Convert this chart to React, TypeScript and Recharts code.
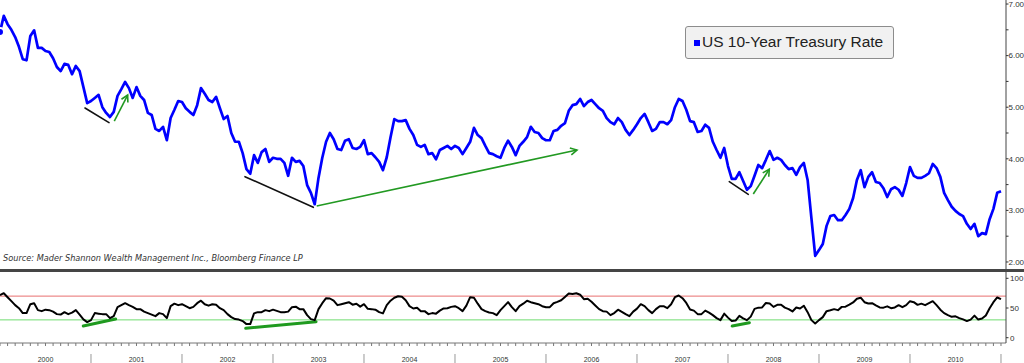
import { LineChart, Line, XAxis, YAxis, ReferenceLine } from "recharts";

// semi-monthly readings, 24 per year (2010 carries one extra closing point)
const years = [2000, 2001, 2002, 2003, 2004, 2005, 2006, 2007, 2008, 2009, 2010];
const yearLabels = ["2000", "2001", "2002", "2003", "2004", "2005", "2006", "2007", "2008", "2009", "2010"];

const rate2000 = [6.46, 6.77, 6.61, 6.5, 6.36, 6.17, 5.93, 5.91, 6.38, 6.49, 6.15, 6.15, 6.09, 6.07, 5.95, 5.78, 5.7, 5.84, 5.82, 5.64, 5.8, 5.7, 5.39, 5.08];
const rate2001 = [5.12, 5.18, 5.24, 5.0, 4.89, 4.81, 4.91, 5.22, 5.35, 5.49, 5.37, 5.18, 5.39, 5.22, 5.14, 4.89, 4.85, 4.58, 4.54, 4.62, 4.36, 4.79, 4.95, 5.12];
const rate2002 = [5.1, 4.98, 4.91, 4.85, 5.04, 5.37, 5.26, 5.14, 5.1, 5.2, 4.98, 4.77, 4.83, 4.5, 4.33, 4.33, 4.11, 3.8, 3.71, 4.07, 3.92, 4.13, 4.19, 3.94];
const rate2003 = [4.02, 4.0, 4.0, 3.92, 3.67, 4.02, 3.94, 3.96, 3.86, 3.49, 3.34, 3.12, 3.63, 4.02, 4.33, 4.5, 4.38, 4.19, 4.17, 4.35, 4.38, 4.21, 4.19, 4.23];
const rate2004 = [4.36, 4.09, 4.11, 4.03, 3.94, 3.78, 4.03, 4.42, 4.77, 4.73, 4.73, 4.75, 4.58, 4.46, 4.27, 4.23, 4.27, 4.09, 4.11, 3.99, 4.17, 4.21, 4.25, 4.19];
const rate2005 = [4.25, 4.21, 4.09, 4.21, 4.33, 4.6, 4.46, 4.4, 4.25, 4.11, 4.09, 4.05, 4.02, 4.21, 4.35, 4.23, 4.07, 4.25, 4.33, 4.42, 4.62, 4.52, 4.5, 4.4];
const rate2006 = [4.36, 4.36, 4.54, 4.56, 4.64, 4.69, 4.93, 5.04, 5.06, 5.16, 5.02, 5.1, 5.14, 5.06, 4.98, 4.93, 4.79, 4.71, 4.67, 4.79, 4.71, 4.56, 4.46, 4.56];
const rate2007 = [4.67, 4.79, 4.87, 4.71, 4.54, 4.58, 4.71, 4.71, 4.67, 4.75, 5.0, 5.16, 5.12, 4.95, 4.73, 4.71, 4.52, 4.54, 4.66, 4.6, 4.33, 4.17, 4.02, 4.21];
const rate2008 = [3.86, 3.61, 3.61, 3.74, 3.57, 3.4, 3.47, 3.67, 3.88, 3.82, 3.98, 4.15, 3.98, 4.02, 3.98, 3.88, 3.8, 3.82, 3.69, 3.84, 3.92, 3.59, 2.85, 2.12];
const rate2009 = [2.23, 2.35, 2.7, 2.89, 2.91, 2.81, 2.81, 2.91, 3.03, 3.24, 3.59, 3.78, 3.45, 3.65, 3.74, 3.55, 3.53, 3.43, 3.26, 3.41, 3.45, 3.4, 3.28, 3.53];
const rate2010 = [3.84, 3.67, 3.63, 3.63, 3.67, 3.72, 3.9, 3.82, 3.65, 3.34, 3.2, 3.07, 2.99, 2.93, 2.89, 2.74, 2.64, 2.74, 2.5, 2.56, 2.54, 2.83, 3.03, 3.34, 3.37];

const rsi2000 = [71.5, 74.9, 68.2, 61.5, 54.8, 49.7, 41.4, 41.4, 56.4, 58.1, 46.4, 44.7, 47.2, 46.4, 43.9, 39.7, 38.9, 43.0, 39.7, 42.2, 46.4, 38.9, 30.8, 26.3];
const rsi2001 = [29.6, 41.4, 40.5, 39.7, 39.7, 33.0, 36.3, 51.4, 54.8, 58.1, 54.8, 51.9, 48.1, 48.1, 43.9, 41.4, 38.9, 36.3, 41.4, 39.7, 33.0, 53.1, 57.3, 54.8];
const rsi2002 = [56.4, 53.1, 49.7, 51.9, 58.1, 62.3, 56.4, 53.9, 56.4, 55.3, 49.7, 46.4, 39.7, 34.7, 31.3, 30.5, 28.0, 22.9, 22.9, 40.9, 43.0, 43.0, 46.4, 44.7];
const rsi2003 = [47.2, 45.2, 43.0, 43.0, 43.9, 51.4, 52.3, 48.1, 48.1, 38.0, 31.3, 29.6, 48.1, 58.1, 66.5, 66.0, 62.3, 54.8, 56.4, 58.1, 59.8, 55.6, 57.3, 52.3];
const rsi2004 = [56.4, 48.6, 48.1, 47.2, 43.0, 40.9, 54.8, 62.3, 67.3, 69.8, 69.0, 63.1, 53.1, 49.2, 50.6, 44.7, 44.7, 39.7, 41.4, 40.5, 45.6, 49.2, 49.7, 51.9];
const rsi2005 = [53.1, 49.7, 44.7, 53.9, 68.2, 67.3, 57.3, 48.1, 44.7, 42.5, 41.4, 38.0, 46.4, 53.1, 59.8, 51.4, 44.7, 53.1, 57.3, 62.3, 59.8, 58.1, 56.4, 53.1];
const rsi2006 = [51.4, 51.4, 58.1, 60.3, 63.1, 68.7, 74.4, 73.7, 74.9, 72.4, 64.8, 65.7, 60.6, 54.3, 48.1, 44.7, 43.9, 38.0, 41.4, 47.2, 43.6, 39.7, 36.3, 43.9];
const rsi2007 = [48.9, 56.4, 53.1, 46.4, 41.4, 48.1, 53.1, 53.1, 49.7, 56.4, 68.2, 71.0, 66.5, 58.6, 47.6, 45.6, 39.7, 39.7, 45.6, 42.2, 38.0, 33.0, 29.6, 40.5];
const rsi2008 = [33.8, 28.0, 28.8, 36.7, 32.5, 29.6, 35.5, 48.6, 50.6, 50.9, 58.6, 57.6, 51.9, 55.3, 55.6, 50.6, 48.1, 44.2, 50.9, 49.2, 53.9, 43.0, 29.6, 23.8];
const rsi2009 = [29.6, 34.7, 44.7, 46.1, 48.1, 46.4, 51.9, 52.3, 55.6, 59.3, 65.7, 67.3, 59.8, 57.6, 58.1, 54.3, 50.9, 50.6, 52.8, 49.7, 50.9, 54.8, 51.4, 54.8];
const rsi2010 = [61.5, 59.8, 55.3, 57.3, 54.8, 58.1, 61.5, 54.8, 47.2, 41.4, 38.0, 35.2, 36.0, 33.0, 30.8, 28.0, 30.5, 37.2, 30.5, 32.2, 37.5, 49.7, 59.8, 67.7, 64.8];

const rateByYear = [rate2000, rate2001, rate2002, rate2003, rate2004, rate2005, rate2006, rate2007, rate2008, rate2009, rate2010];
const rsiByYear = [rsi2000, rsi2001, rsi2002, rsi2003, rsi2004, rsi2005, rsi2006, rsi2007, rsi2008, rsi2009, rsi2010];

const rateTicks = [2, 2.5, 3, 3.5, 4, 4.5, 5, 5.5, 6, 6.5, 7];
const rsiTicks = [0, 50, 100];

// hand drawn trend marks, in data units [t1, v1, t2, v2]
const rateBlackMarks = [
  [2000.934, 4.985, 2001.198, 4.7],
  [2002.692, 3.653, 2003.443, 3.06],
  [2008.014, 3.556, 2008.223, 3.312],
];
const rateGreenArrows = [
  [2001.256, 4.73, 2001.403, 5.236],
  [2003.48, 3.085, 2006.341, 4.17],
  [2008.278, 3.318, 2008.454, 3.797],
];
const rsiGreenMarks = [
  [2000.915, 19.7, 2001.271, 31.5],
  [2002.7, 15.8, 2003.473, 26.9],
  [2008.047, 19.7, 2008.234, 25.3],
];

const rows: { t: number; rate: number; rsi: number }[] = [];
years.forEach((yr, yi) => {
  rateByYear[yi].forEach((v, i) => {
    rows.push({ t: yr + i / 24, rate: v, rsi: rsiByYear[yi][i] });
  });
});

const X_DOMAIN: [number, number] = [2000, 2011.055];
const monthTicks = Array.from({ length: 133 }, (_, m) => 2000 + m / 12);

const W = 1024;
const AXIS_W = 18;

function RateTick(props: any) {
  const { x, y, payload } = props;
  const v = payload.value;
  const major = Math.abs(v - Math.round(v)) < 1e-6;
  return (
    <g>
      <line x1={x} x2={x + 2.5} y1={y} y2={y} stroke="#333" strokeWidth={1} />
      {major && (
        <text x={x + 2.5} y={y} dy="0.35em" fontSize={8} fill="#333" fontFamily="Liberation Sans">
          {v.toFixed(2)}
        </text>
      )}
    </g>
  );
}

function RsiTick(props: any) {
  const { x, y, payload } = props;
  return (
    <g>
      <line x1={x} x2={x + 2.5} y1={y} y2={y} stroke="#333" strokeWidth={1} />
      <text x={x + 4} y={y} dy="0.35em" fontSize={8} fill="#333" fontFamily="Liberation Sans">
        {payload.value}
      </text>
    </g>
  );
}

function YearTick(props: any) {
  const { x, y, payload } = props;
  const m = Math.round((payload.value - 2000) * 12);
  const boundary = m % 12 === 0 && m > 0;
  const mid = m % 12 === 6;
  return (
    <g>
      <line x1={x} x2={x} y1={y} y2={y + 3} stroke="#777" strokeWidth={1} />
      {boundary && <line x1={x} x2={x} y1={y + 11} y2={y + 20} stroke="#999" strokeWidth={1} />}
      {mid && (
        <text x={x} y={y + 18.5} textAnchor="middle" fontSize={7} fill="#333" fontFamily="Liberation Sans">
          {yearLabels[Math.floor(m / 12)]}
        </text>
      )}
    </g>
  );
}

const plainSeg = (color: string, width: number) => (p: any) => (
  <line x1={p.x1} y1={p.y1} x2={p.x2} y2={p.y2} stroke={color} strokeWidth={width} strokeLinecap="round" />
);

const arrowSeg = (color: string) => (p: any) => {
  const a = Math.atan2(p.y2 - p.y1, p.x2 - p.x1);
  const L = 7.5;
  const w = 0.5;
  const h1 = `${p.x2 - L * Math.cos(a - w)},${p.y2 - L * Math.sin(a - w)}`;
  const h2 = `${p.x2 - L * Math.cos(a + w)},${p.y2 - L * Math.sin(a + w)}`;
  return (
    <g>
      <line x1={p.x1} y1={p.y1} x2={p.x2} y2={p.y2} stroke={color} strokeWidth={1.6} />
      <polyline points={`${h1} ${p.x2},${p.y2} ${h2}`} fill="none" stroke={color} strokeWidth={1.6} />
    </g>
  );
};

export default function App() {
  return (
    <div
      style={{
        position: "absolute",
        left: 0,
        top: 0,
        width: W,
        height: 363,
        background: "#fff",
        overflow: "hidden",
      }}
    >
      <LineChart width={W} height={269} data={rows} margin={{ top: 0, right: 0, bottom: 0, left: 0 }}>
        <XAxis dataKey="t" type="number" domain={X_DOMAIN} allowDataOverflow hide />
        <YAxis
          orientation="right"
          width={AXIS_W}
          type="number"
          domain={[1.864, 7.078]}
          allowDataOverflow
          ticks={rateTicks}
          interval={0}
          tickSize={0}
          tickMargin={0}
          tickLine={false}
          axisLine={{ stroke: "#444" }}
          tick={RateTick}
        />
        {rateBlackMarks.map((s, i) => (
          <ReferenceLine
            key={"b" + i}
            segment={[{ x: s[0], y: s[1] }, { x: s[2], y: s[3] }]}
            shape={plainSeg("#111", 1.6)}
          />
        ))}
        {rateGreenArrows.map((s, i) => (
          <ReferenceLine
            key={"g" + i}
            segment={[{ x: s[0], y: s[1] }, { x: s[2], y: s[3] }]}
            shape={arrowSeg("#229922")}
          />
        ))}
        <Line
          dataKey="rate"
          type="linear"
          stroke="#0000ff"
          strokeWidth={2.7}
          strokeLinejoin="round"
          dot={false}
          isAnimationActive={false}
        />
      </LineChart>

      <div
        style={{
          position: "absolute",
          left: 3,
          top: 253,
          fontFamily: "DejaVu Sans",
          fontStyle: "italic",
          fontSize: 8.2,
          color: "#333",
          whiteSpace: "nowrap",
        }}
      >
        Source: Mader Shannon Wealth Management Inc., Bloomberg Finance LP
      </div>

      <div
        style={{
          position: "absolute",
          left: 685,
          top: 26,
          width: 207,
          height: 31,
          background: "#f1f1f1",
          border: "1px solid #8c8c8c",
          borderRadius: 3,
          boxSizing: "content-box",
        }}
      >
        <div style={{ position: "absolute", left: 8, top: 13, width: 6, height: 6, background: "#0000ff" }} />
        <div
          style={{
            position: "absolute",
            left: 16,
            top: 6,
            fontFamily: "Liberation Sans",
            fontSize: 15.5,
            lineHeight: "18px",
            color: "#222",
            whiteSpace: "nowrap",
          }}
        >
          US 10-Year Treasury Rate
        </div>
      </div>

      <div style={{ position: "absolute", left: 0, top: 269, width: W, height: 3, background: "#454545" }} />

      <div style={{ position: "absolute", left: 0, top: 272 }}>
        <LineChart width={W} height={91} data={rows} margin={{ top: 0, right: 0, bottom: 0, left: 0 }}>
          <XAxis
            dataKey="t"
            type="number"
            domain={X_DOMAIN}
            allowDataOverflow
            ticks={monthTicks}
            interval={0}
            height={20}
            tickSize={0}
            tickMargin={0}
            tickLine={false}
            axisLine={{ stroke: "#777" }}
            tick={YearTick}
          />
          <YAxis
            orientation="right"
            width={AXIS_W}
            type="number"
            domain={[-8.9, 110.6]}
            allowDataOverflow
            ticks={rsiTicks}
            interval={0}
            tickSize={0}
            tickMargin={0}
            tickLine={false}
            axisLine={{ stroke: "#444" }}
            tick={RsiTick}
          />
          <ReferenceLine y={70} stroke="#e87070" strokeWidth={1} />
          <ReferenceLine y={30} stroke="#6fdc6f" strokeWidth={1} />
          {rsiGreenMarks.map((s, i) => (
            <ReferenceLine
              key={"r" + i}
              segment={[{ x: s[0], y: s[1] }, { x: s[2], y: s[3] }]}
              shape={plainSeg("#1f9a1f", 3)}
            />
          ))}
          <Line
            dataKey="rsi"
            type="linear"
            stroke="#000"
            strokeWidth={2}
            strokeLinejoin="round"
            dot={false}
            isAnimationActive={false}
          />
        </LineChart>
      </div>
    </div>
  );
}
